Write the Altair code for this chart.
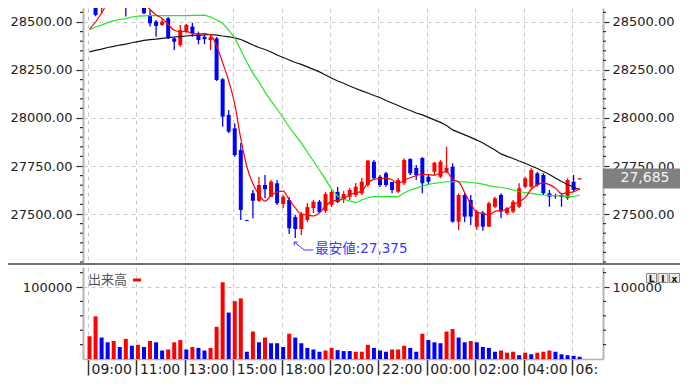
import json
import altair as alt
import numpy as np
import pandas as pd

# ---------------- data ----------------
open_ = [28583, 28641, 28577, 28630, 28625, 28690, 28670, 28625, 28620, 28606,
         28536, 28502, 28485, 28519, 28415, 28380, 28450, 28476, 28441, 28423,
         28406, 28415, 28202, 28016, 27946, 27833, 27468, 27608, 27569, 27651,
         27590, 27660, 27552, 27573, 27484, 27422, 27469, 27530, 27564, 27516,
         27547, 27615, 27578, 27590, 27599, 27608, 27651, 27772, 27694, 27712,
         27667, 27616, 27660, 27786, 27740, 27792, 27694, 27720, 27694, 27720,
         27746, 27460, 27599, 27573, 27434, 27507, 27434, 27538, 27599, 27504,
         27512, 27538, 27642, 27642, 27712, 27703, 27608, 27595, 27599, 27582,
         27668, 27680]
high = [28677, 28667, 28641, 28646, 28700, 28720, 28690, 28641, 28635, 28615,
        28563, 28510, 28519, 28526, 28423, 28485, 28490, 28496, 28450, 28432,
        28427, 28422, 28208, 28042, 27972, 27870, 27470, 27625, 27693, 27703,
        27677, 27677, 27599, 27589, 27495, 27510, 27557, 27573, 27573, 27615,
        27625, 27641, 27620, 27635, 27661, 27688, 27781, 27781, 27703, 27720,
        27668, 27688, 27790, 27790, 27755, 27795, 27703, 27772, 27781, 27850,
        27764, 27608, 27609, 27599, 27521, 27516, 27564, 27590, 27608, 27538,
        27573, 27660, 27694, 27738, 27720, 27712, 27625, 27605, 27609, 27686,
        27703, 27688]
low = [28573, 28530, 28545, 28594, 28620, 28640, 28528, 28583, 28573, 28542,
       28476, 28423, 28479, 28411, 28354, 28371, 28443, 28423, 28384, 28385,
       28354, 28193, 27955, 27922, 27798, 27469, 27462, 27478, 27564, 27582,
       27589, 27547, 27530, 27396, 27375, 27391, 27458, 27505, 27505, 27505,
       27536, 27557, 27557, 27573, 27589, 27599, 27642, 27677, 27641, 27642,
       27608, 27608, 27651, 27703, 27677, 27608, 27651, 27703, 27686, 27712,
       27455, 27417, 27458, 27443, 27417, 27413, 27432, 27530, 27478, 27495,
       27504, 27530, 27634, 27634, 27642, 27599, 27538, 27580, 27538, 27573,
       27616, 27680]
close = [28656, 28536, 28625, 28597, 28690, 28660, 28620, 28589, 28577, 28545,
         28493, 28479, 28502, 28415, 28397, 28458, 28485, 28441, 28406, 28410,
         28420, 28198, 28007, 27929, 27807, 27521, 27464, 27569, 27651, 27629,
         27668, 27556, 27590, 27426, 27422, 27500, 27536, 27564, 27510, 27604,
         27615, 27562, 27604, 27625, 27642, 27668, 27778, 27686, 27651, 27651,
         27625, 27677, 27781, 27712, 27703, 27660, 27668, 27767, 27772, 27740,
         27460, 27599, 27486, 27486, 27512, 27434, 27556, 27582, 27512, 27530,
         27564, 27634, 27686, 27729, 27651, 27608, 27590, 27592, 27589, 27677,
         27625, 27685]
ma_red = [28463, 28500, 28547, 28599, 28620, 28620, 28638, 28631, 28627, 28598,
          28565, 28537, 28519, 28487, 28457, 28450, 28451, 28439, 28437, 28440,
          28432, 28375, 28288, 28193, 28072, 27892, 27746, 27658, 27602, 27567,
          27596, 27615, 27619, 27574, 27532, 27499, 27495, 27490, 27506, 27543,
          27566, 27571, 27579, 27602, 27610, 27620, 27663, 27680, 27685, 27687,
          27678, 27658, 27677, 27689, 27700, 27707, 27705, 27702, 27714, 27721,
          27681, 27668, 27611, 27554, 27509, 27503, 27495, 27514, 27519, 27523,
          27549, 27564, 27585, 27629, 27653, 27662, 27653, 27634, 27606, 27611,
          27615, 27634]
ma_green = [28458, 28474, 28484, 28497, 28507, 28513, 28518, 28526, 28531, 28532,
            28533, 28533, 28533, 28533, 28533, 28533, 28533, 28534, 28535, 28536,
            28526, 28510, 28493, 28458, 28417, 28354, 28290, 28234, 28188, 28135,
            28089, 28047, 28000, 27953, 27911, 27870, 27823, 27776, 27729, 27680,
            27630, 27594, 27577, 27568, 27559, 27573, 27586, 27590, 27590, 27590,
            27590, 27590, 27609, 27625, 27635, 27646, 27654, 27660, 27664, 27668,
            27668, 27668, 27667, 27664, 27661, 27656, 27648, 27643, 27638, 27633,
            27625, 27616, 27612, 27607, 27602, 27599, 27597, 27595, 27594, 27591,
            27590, 27599]
ma_black = [28344, 28352, 28359, 28367, 28373, 28380, 28385, 28392, 28398, 28404,
            28408, 28411, 28415, 28419, 28422, 28424, 28427, 28430, 28431, 28433,
            28435, 28432, 28427, 28423, 28417, 28409, 28395, 28380, 28367, 28357,
            28344, 28328, 28315, 28302, 28289, 28279, 28266, 28253, 28240, 28224,
            28208, 28193, 28181, 28167, 28154, 28141, 28130, 28117, 28107, 28091,
            28078, 28065, 28051, 28039, 28026, 28016, 28003, 27990, 27977, 27961,
            27938, 27925, 27912, 27899, 27885, 27870, 27852, 27833, 27813, 27800,
            27789, 27776, 27764, 27750, 27737, 27721, 27706, 27688, 27669, 27654,
            27641, 27625]
volume = [31600, 59200, 29800, 23200, 25000, 16700, 28000, 18400, 19700, 16700,
          25000, 23200, 11800, 13200, 23200, 26300, 13200, 16700, 15400, 11800,
          15400, 44700, 106600, 64500, 80300, 84200, 10100, 38200, 23200, 29800,
          21900, 21900, 16700, 35100, 29800, 21900, 15400, 13200, 10100, 11800,
          15400, 12300, 11000, 11000, 10100, 10100, 19700, 15400, 11800, 10100,
          13200, 13200, 18400, 15400, 10100, 35100, 26300, 23200, 21900, 38200,
          41700, 29800, 23200, 25000, 23200, 16700, 15400, 10100, 11800, 8800,
          10100, 5300, 8800, 6600, 8800, 10100, 11800, 10100, 6600, 5300,
          4400, 3100]
vol_color = list("rrbbrbrbrb" "rbbrrrbrbb" "rrrbrrbrbr" "bbbrbbbbbr"
                 "rbbbrrrbbb" "rrrbbrbbbr" "rbbrbbbbrr" "rbrbrrrbbb" "bb")
time_labels = ["09:00", "11:00", "13:00", "15:00", "18:00", "20:00",
               "22:00", "00:00", "02:00", "04:00", "06:"]
price_ticks = [27500, 27750, 28000, 28250, 28500]
price_minor = [p for p in range(27250, 28600, 50) if p not in price_ticks]
vol_ticks = [100000]
vol_minor = [20000, 40000, 60000, 80000, 120000]
last_price = 27685
low_index = 34
low_value = 27375
low_text = "最安値:27,375"
vol_title = "出来高"
buttons = ["L", "I", "x"]

# ---------------- layout / style ----------------
W, H1, H2 = 520, 256, 92
RED, BLUE = "#ff0000", "#0000ff"
GRID, AXC, TXT, TICK = "#c8c8c8", "#b4b4b4", "#222222", "#333333"
ANN = "#3a3aff"
AFS = 13  # axis label font size
RIGHT_EDGE = 597

df = pd.DataFrame({"i": np.arange(len(close)), "open": open_, "high": high,
                   "low": low, "close": close, "ma5": ma_red, "ma25": ma_green,
                   "ma75": ma_black, "vol": volume, "vc": vol_color})
df["dir"] = np.where(df["close"] >= df["open"], "up", "down")

xscale = alt.Scale(domain=[-0.25, 84.03], nice=False, zero=False)
pscale = alt.Scale(domain=[27239.6, 28572.9], nice=False, zero=False)
vscale = alt.Scale(domain=[0, 127780], nice=False, zero=True)
xvals = [8 * k - 0.25 for k in range(len(time_labels))]
label_expr = json.dumps(time_labels) + "[round((datum.value + 0.25) / 8)]"

px_axis = alt.Axis(values=xvals, grid=True, gridColor=GRID, gridDash=[4, 4],
                   labels=False, ticks=False, domain=False, title=None)
pl_axis = alt.Axis(orient="left", values=price_ticks, format=".2f", tickSize=7,
                   tickColor=TICK, tickWidth=1.2, labelPadding=4, labelFontSize=AFS,
                   labelColor=TXT, grid=True, gridColor=GRID, gridDash=[4, 4],
                   domainColor=AXC, domainWidth=2, title=None, labelFlush=False,
                   labelOverlap=False)
pr_axis = alt.Axis(orient="right", values=price_ticks, format=".2f", tickSize=6,
                   tickColor=TICK, tickWidth=1.2, labelPadding=3, labelFontSize=AFS,
                   labelColor=TXT, grid=False, domainColor=AXC, domainWidth=2,
                   title=None, labelFlush=False, labelOverlap=False)

X = alt.X("i:Q", scale=xscale, axis=px_axis)


def PY(f):
    return alt.Y(f, scale=pscale, axis=pl_axis)


def PYR(f):
    return alt.Y(f, scale=pscale, axis=pr_axis)


cdir = alt.Color("dir:N", scale=alt.Scale(domain=["up", "down"], range=[RED, BLUE]), legend=None)
base = alt.Chart(df)
one = pd.DataFrame({"a": [0]})

wicks = base.mark_rule(strokeWidth=1.3, clip=True).encode(x=X, y=PY("low:Q"), y2="high:Q", color=cdir)
bodies = base.mark_bar(size=4, clip=True).encode(x=X, y=PY("open:Q"), y2="close:Q", color=cdir)
l75 = base.mark_line(color="#111111", strokeWidth=1.2, clip=True).encode(x=X, y=PY("ma75:Q"))
l25 = base.mark_line(color="#22e622", strokeWidth=1.2, clip=True).encode(x=X, y=PY("ma25:Q"))
l5 = base.mark_line(color=RED, strokeWidth=1.2, interpolate="monotone", clip=True).encode(x=X, y=PY("ma5:Q"))

pminor_df = pd.DataFrame({"v": price_minor})
pminor_l = alt.Chart(pminor_df).mark_rule(color=TICK, strokeWidth=1.2, clip=False).encode(
    y=PY("v:Q"), x=alt.value(-3), x2=alt.value(0))
sep = alt.Chart(one).mark_rect(color="#707070", clip=False).encode(
    x=alt.value(-75), x2=alt.value(RIGHT_EDGE), y=alt.value(H1 - 1), y2=alt.value(H1 + 1))

ann = alt.Chart(pd.DataFrame({"i": [low_index], "p": [low_value], "t": [low_text]}))
segs = [(-1, 4, 9, 12), (9, 12, 18, 12), (-1, 4, 2.5, 4), (-1, 4, -1, 7.5)]
leaders = [ann.mark_rule(color=ANN, strokeWidth=1, xOffset=a, yOffset=b, x2Offset=c, y2Offset=d)
           .encode(x=X, x2="i:Q", y=PY("p:Q"), y2="p:Q") for a, b, c, d in segs]
ann_text = ann.mark_text(align="left", baseline="middle", dx=20, dy=11, color=ANN, fontSize=13.5,
                         font="DejaVu Sans, Noto Sans CJK JP").encode(x=X, y=PY("p:Q"), text="t:N")

pminor_r = alt.Chart(pminor_df).mark_rule(color=TICK, strokeWidth=1.2, clip=False).encode(
    y=PYR("v:Q"), x=alt.value(W), x2=alt.value(W + 3))
last_df = pd.DataFrame({"p": [last_price], "t": [f"{last_price:,}"]})
box = alt.Chart(last_df).mark_rect(color="#808080", clip=False, yOffset=-10, y2Offset=10).encode(
    y=PYR("p:Q"), y2="p:Q", x=alt.value(W), x2=alt.value(RIGHT_EDGE))
box_t = alt.Chart(last_df).mark_text(color="#f4f4f4", fontSize=14, align="center", baseline="middle",
                                     font="DejaVu Sans").encode(y=PYR("p:Q"), x=alt.value(562), text="t:N")

price_inner = alt.layer(wicks, bodies, l75, l25, l5, pminor_l, *leaders, ann_text, sep)
price_right = alt.layer(pminor_r, box, box_t)
price = alt.layer(price_inner, price_right).resolve_scale(y="independent").properties(width=W, height=H1)

# ---------------- volume panel ----------------
vx_axis = alt.Axis(values=xvals, labelExpr=label_expr, labelAlign="left", labelBaseline="top",
                   labelOffset=3, labelPadding=-13, tickSize=16, tickColor=TICK, tickWidth=1.5,
                   labelFontSize=14, labelColor=TXT, grid=True, gridColor=GRID, gridDash=[4, 4],
                   domainColor=AXC, domainWidth=1.5, title=None, labelFlush=False, labelOverlap=False)
vl_axis = alt.Axis(orient="left", values=vol_ticks, format="d", tickSize=7, tickColor=TICK,
                   tickWidth=1.2, labelPadding=4, labelFontSize=AFS, labelColor=TXT, grid=True,
                   gridColor=GRID, gridDash=[4, 4], domainColor=AXC, domainWidth=2, title=None,
                   labelFlush=False, labelOverlap=False)
vr_axis = alt.Axis(orient="right", values=vol_ticks, format="d", tickSize=6, tickColor=TICK,
                   tickWidth=1.2, labelPadding=3, labelFontSize=AFS, labelColor=TXT, grid=False,
                   domainColor=AXC, domainWidth=2, title=None, labelFlush=False, labelOverlap=False)
VX = alt.X("i:Q", scale=xscale, axis=vx_axis)
vcol = alt.Color("vc:N", scale=alt.Scale(domain=["r", "b"], range=[RED, BLUE]), legend=None)

vbars = base.mark_bar(size=4).encode(x=VX, y=alt.Y("vol:Q", scale=vscale, axis=vl_axis), color=vcol)
vminor_df = pd.DataFrame({"v": vol_minor})
vminor_l = alt.Chart(vminor_df).mark_rule(color=TICK, strokeWidth=1.2, clip=False).encode(
    y=alt.Y("v:Q", scale=vscale, axis=vl_axis), x=alt.value(-3), x2=alt.value(0))
leg = alt.Chart(pd.DataFrame({"t": [vol_title]})).mark_text(
    align="left", baseline="middle", fontSize=13, font="Noto Sans CJK JP", color="#555555").encode(
    x=alt.value(5), y=alt.value(13), text="t:N")
legdash = alt.Chart(one).mark_rect(color=RED).encode(
    x=alt.value(50), x2=alt.value(58), y=alt.value(11.5), y2=alt.value(14.5))

vminor_r = alt.Chart(vminor_df).mark_rule(color=TICK, strokeWidth=1.2, clip=False).encode(
    y=alt.Y("v:Q", scale=vscale, axis=vr_axis), x=alt.value(W), x2=alt.value(W + 3))
btn_layers = []
for k, lab in enumerate(buttons):
    x0 = 563.5 + 11.5 * k
    btn_layers.append(alt.Chart(one).mark_rect(fill="#ececec", stroke="#8a8a8a", strokeWidth=1).encode(
        x=alt.value(x0), x2=alt.value(x0 + 10), y=alt.value(6.5), y2=alt.value(15.5)))
    btn_layers.append(alt.Chart(one).mark_text(text=lab, fontSize=9, fontWeight="bold", color="#111111",
                                               align="center", baseline="middle", font="DejaVu Sans").encode(
        x=alt.value(x0 + 5), y=alt.value(11.5)))

vol_inner = alt.layer(vbars, vminor_l, leg, legdash)
vol_right = alt.layer(vminor_r, *btn_layers)
vol = alt.layer(vol_inner, vol_right).resolve_scale(y="independent").properties(width=W, height=H2)

chart = (alt.vconcat(price, vol, spacing=2)
         .properties(padding=0)
         .configure_view(strokeWidth=0)
         .configure_axis(labelFont="DejaVu Sans")
         .configure_text(font="DejaVu Sans"))

chart.save("out.html", embed_options={"renderer": "svg", "actions": False})
